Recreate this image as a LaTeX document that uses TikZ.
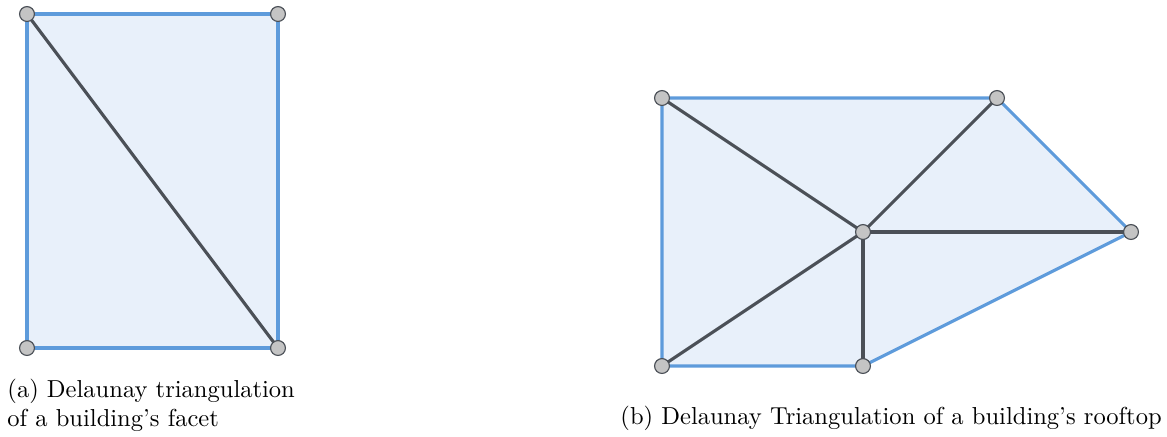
\documentclass[tikz,border=0pt]{standalone}
\usepackage{tikz}
\usetikzlibrary{positioning}
\definecolor{meshfill}{HTML}{E8F0FA}
\definecolor{meshblue}{HTML}{5E9BDB}
\definecolor{meshdark}{HTML}{4B5057}
\definecolor{vtxfill}{HTML}{C4C4C4}
\tikzset{
  mesh/vertex/.style={draw=meshdark, fill=vtxfill, circle, line width=0.5pt, inner sep=0pt, minimum size=6.4pt},
  mesh/border/.style={draw=meshblue, line width=1.35pt},
  mesh/edge/.style={draw=meshdark, line width=1.35pt},
  mesh/face/.style={fill=meshfill},
  caption/.style={align=left, inner sep=0pt, anchor=north west, font=\fontsize{10.55}{12.4}\selectfont}
}
\begin{document}
\begin{tikzpicture}[x=0.43pt, y=-0.43pt]
\useasboundingbox (0,0) rectangle (1167,436);
% (a) facet
\coordinate (a1) at (27,14);
\coordinate (a2) at (278,14);
\coordinate (a3) at (27,348);
\coordinate (a4) at (278,348);
\fill[mesh/face] (a1) -- (a2) -- (a4) -- (a3) -- cycle;
\draw[mesh/border] (a1) -- (a2) -- (a4) -- (a3) -- cycle;
\draw[mesh/edge] (a1) -- (a4);
\foreach \v in {a1,a2,a3,a4} \node[mesh/vertex] (v\v) at (\v) {};
% (b) rooftop
\coordinate (b1) at (662,98);
\coordinate (b2) at (997,98);
\coordinate (b3) at (1131,232);
\coordinate (b4) at (863,232);
\coordinate (b5) at (662,366);
\coordinate (b6) at (863,366);
\fill[mesh/face] (b1) -- (b2) -- (b3) -- (b6) -- (b5) -- cycle;
\draw[mesh/border] (b1) -- (b2) -- (b3) -- (b6) -- (b5) -- cycle;
\foreach \v in {b1,b2,b3,b5,b6} \draw[mesh/edge] (b4) -- (\v);
\foreach \v in {b1,b2,b3,b4,b5,b6} \node[mesh/vertex] (v\v) at (\v) {};
% captions
\node[caption] (capa) at (7,379) {(a) Delaunay triangulation\\of a building's facet};
\node[caption] (capb) at (620,406) {(b) Delaunay Triangulation of a building's rooftop};
\end{tikzpicture}
\end{document}
